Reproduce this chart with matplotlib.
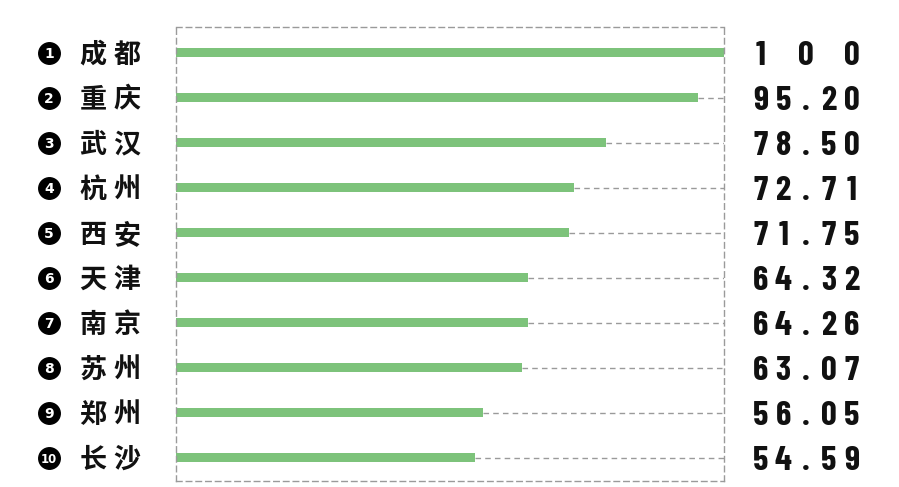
import numpy as np
import matplotlib
matplotlib.use('Agg')
import matplotlib.pyplot as plt
from matplotlib import font_manager, transforms

# 城市排名数据
cities = ['成都', '重庆', '武汉', '杭州', '西安', '天津', '南京', '苏州', '郑州', '长沙']
values = [100, 95.20, 78.50, 72.71, 71.75, 64.32, 64.26, 63.07, 56.05, 54.59]
value_labels = ['100', '95.20', '78.50', '72.71', '71.75', '64.32', '64.26', '63.07', '56.05', '54.59']
ranks = [str(i) for i in range(1, 11)]

bar_color = '#7dc37b'
grid_color = '#9a9a9a'

installed = {f.name for f in font_manager.fontManager.ttflist}
num_font = 'DejaVu Sans'
for cand in ['Barlow Condensed', 'Roboto Condensed', 'IBM Plex Sans Condensed', 'Liberation Sans Narrow']:
    if cand in installed:
        num_font = cand
        break
cjk_font = ['Noto Sans CJK SC', 'DejaVu Sans']

W, H = 899, 487
fig = plt.figure(figsize=(W / 100, H / 100), dpi=100)
# caixa tracejada: x 176..724 px, y 26.7..480.7 px
ax = fig.add_axes([176 / W, (H - 480.7) / H, 548 / W, 454 / H])

n = len(cities)
y = np.arange(n)
ax.barh(y, values, height=0.21, color=bar_color, zorder=2)

# linhas tracejadas do fim da barra até 100
for yi, v in zip(y, values):
    if v < 100:
        ax.plot([v, 100], [yi, yi], color=grid_color, lw=1.0,
                linestyle=(0, (4, 3)), zorder=1)

ax.set_xlim(0, 100)
ax.set_ylim(9.511, -0.578)
ax.set_xticks([])
ax.set_yticks([])
for s in ax.spines.values():
    s.set_color(grid_color)
    s.set_linewidth(1.0)
    s.set_linestyle((0, (4, 3)))

tr = ax.get_yaxis_transform()
ax_w = 548.0

def ax_x(px):
    return (px - 176) / ax_w

# círculos numerados
ax.scatter([ax_x(49)] * n, y, s=240, color='black', transform=tr, clip_on=False, zorder=3)
for yi, r in zip(y, ranks):
    ax.text(ax_x(49), yi, r, transform=tr, ha='center', va='center_baseline',
            color='white', fontsize=10 if len(r) == 1 else 8.5, fontweight='bold',
            family='DejaVu Sans', zorder=4)

# nomes das cidades (cada caractere com espaçamento)
cjk_tr = transforms.offset_copy(tr, fig=fig, x=0, y=-2, units='dots')
for yi, c in zip(y, cities):
    for k, ch in enumerate(c):
        ax.text(ax_x(93 + 34 * k), yi, ch, transform=cjk_tr, ha='center', va='center',
                fontsize=19.5, fontweight='bold', family=cjk_font, color='#111111')

# valores justificados
num_tr = transforms.offset_copy(tr, fig=fig, x=0, y=-12.5, units='dots')
for yi, lab in zip(y, value_labels):
    xs = np.linspace(760.5, 851.5, len(lab))
    for xp, ch in zip(xs, lab):
        ax.text(ax_x(xp), yi, ch, transform=num_tr, ha='center', va='baseline',
                fontsize=25, fontweight='bold', family=[num_font, 'DejaVu Sans'],
                color='#111111')

fig.savefig('out.png', dpi=100)
